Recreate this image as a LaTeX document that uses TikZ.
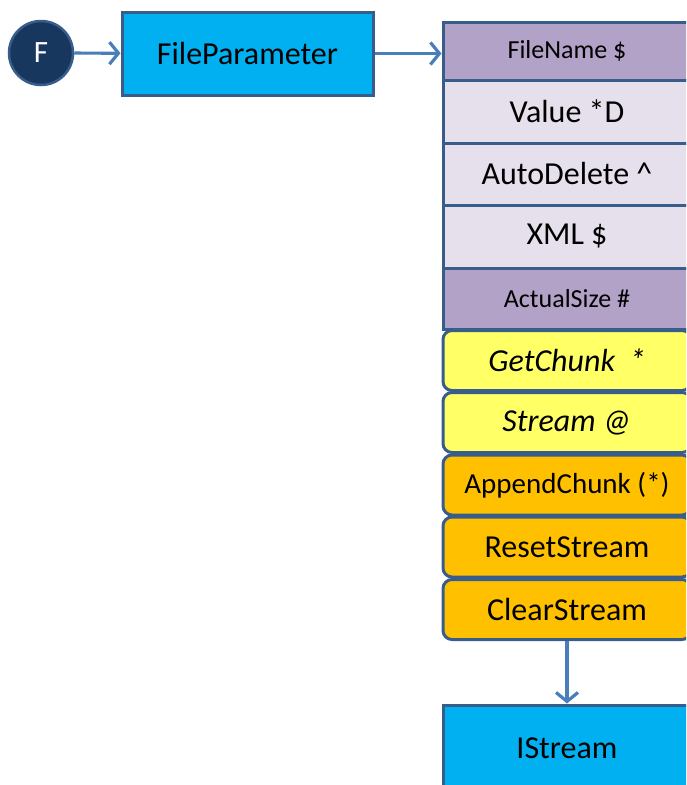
\documentclass[tikz,border=0pt]{standalone}
\usepackage{fontspec}
\setmainfont{Carlito}
\usetikzlibrary{arrows.meta}
\definecolor{framec}{HTML}{385D8A}
\definecolor{linkc}{HTML}{4A7EBB}
\definecolor{boxblue}{HTML}{00B0F0}
\definecolor{navy}{HTML}{17375E}
\definecolor{keypurple}{HTML}{B3A2C7}
\definecolor{lilac}{HTML}{E5E0EC}
\definecolor{lemon}{HTML}{FFFF66}
\definecolor{amber}{HTML}{FFC000}

\begin{document}
\begin{tikzpicture}[x=1pt,y=-1pt,
        cell/.style={draw=framec,line width=3pt,minimum width=248pt,inner sep=0pt,
            font=\fontsize{32}{36}\selectfont},
        small/.style={font=\fontsize{26}{30}\selectfont},
        method/.style={cell,rounded corners=9pt},
        link/.style={draw=linkc,line width=3.2pt,-{Straight Barb[length=9pt,width=22pt]}}]
    \useasboundingbox (0,0) rectangle (686,785);
    \clip (0,0) rectangle (686,785);
    \node[circle,draw=framec,line width=2.5pt,fill=navy,minimum size=64pt,text=white,
        font=\fontsize{31}{34}\selectfont] (fchar) at (41,53) {F};
    \node[cell,fill=boxblue,minimum width=251pt,minimum height=83pt] (fparam) at (247.5,53.5) {FileParameter};
    % key and value slots
    \node[cell,small,fill=keypurple,minimum height=58pt] (fname) at (567,51) {FileName \$};
    \node[cell,fill=lilac,minimum height=63pt] (value) at (567,111.5) {Value *D};
    \node[cell,fill=lilac,minimum height=62pt] (autodel) at (567,174) {AutoDelete \textasciicircum};
    \node[cell,fill=lilac,minimum height=63pt] (xml) at (567,236.5) {XML \$};
    \node[cell,small,fill=keypurple,minimum height=61pt] (asize) at (567,298.5) {ActualSize \#};
    % methods
    \node[method,fill=lemon,minimum height=60pt] (getchunk) at (567,360.5) {\itshape GetChunk\ \ *};
    \node[method,fill=lemon,minimum height=60pt] (stream) at (567,422.5) {\itshape Stream @};
    \node[method,fill=amber,minimum height=60pt,font=\fontsize{29}{32}\selectfont] (append) at (567,485) {AppendChunk (*)};
    \node[method,fill=amber,minimum height=60pt] (reset) at (567,547) {ResetStream};
    \node[method,fill=amber,minimum height=60pt] (clear) at (567,609.5) {ClearStream};
    \node[cell,fill=boxblue,minimum height=86pt] (istream) at (567,748) {IStream};
    \draw[link] (fchar) -- (fparam);
    \draw[link] (fparam.east) -- (fparam.east -| fname.west);
    \draw[link] (clear) -- (istream);
\end{tikzpicture}
\end{document}
